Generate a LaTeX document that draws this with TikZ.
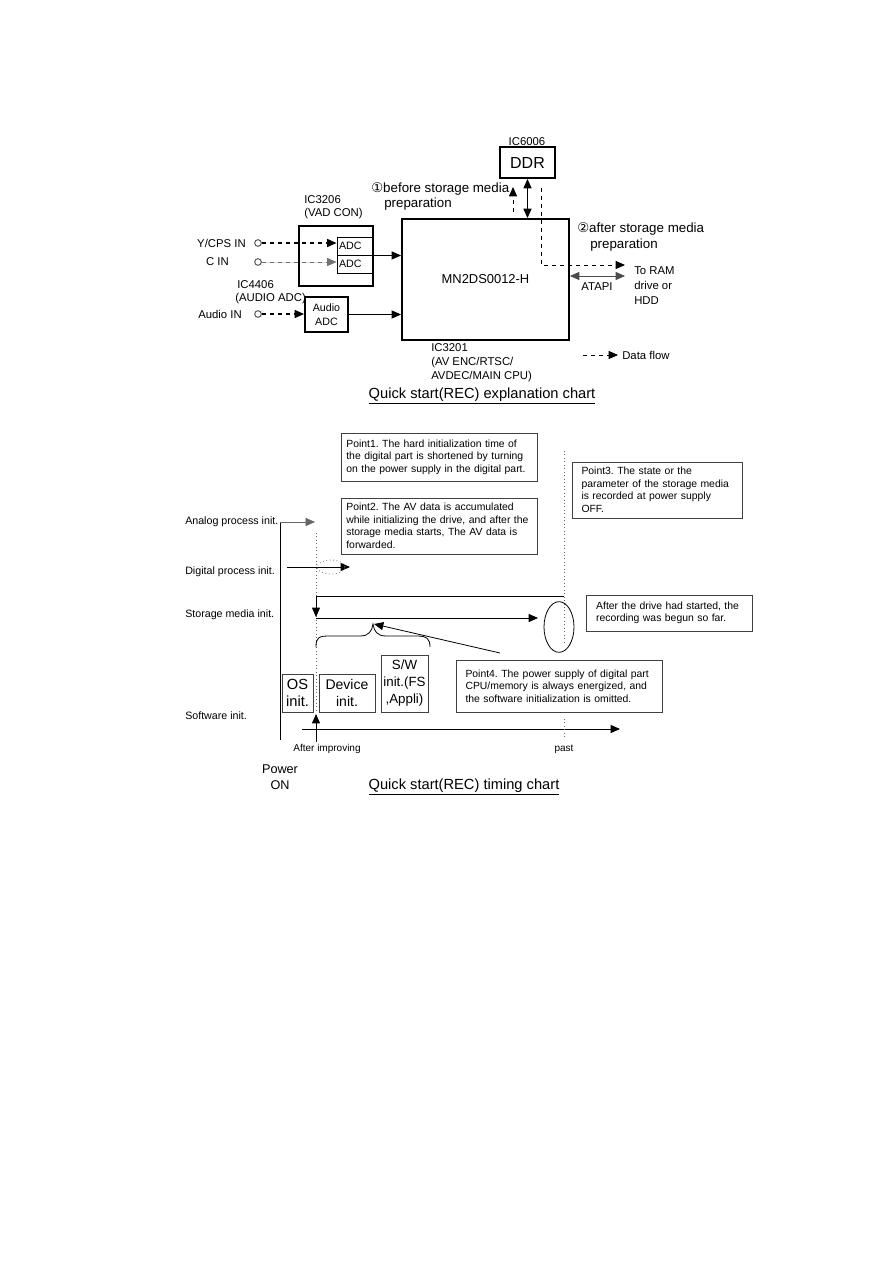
\documentclass[tikz,border=0pt]{standalone}
\usepackage{fontspec}
\setmainfont{Liberation Sans}
\newfontfamily\djv{DejaVu Sans}
\usetikzlibrary{arrows.meta,shapes.geometric}
\frenchspacing
\tikzset{
  lab/.style={inner sep=0pt, font=\fontsize{8.5}{10.5}\selectfont},
  sml/.style={inner sep=0pt, font=\fontsize{8}{9}\selectfont},
  blk/.style={draw, line width=1.4pt, inner sep=0pt},
  thinbox/.style={draw, line width=0.7pt, inner sep=0pt},
  note/.style={draw=black!75, line width=0.6pt, align=left, inner ysep=0pt, font=\fontsize{7.8}{9.4}\selectfont},
  arr/.style={-{Triangle[length=7pt,width=6pt]}},
  darr/.style={{Triangle[length=7pt,width=6pt]}-{Triangle[length=7pt,width=6pt]}},
  initbox/.style={draw=black!75, line width=0.6pt, inner sep=0pt, align=center, font=\fontsize{10.5}{12.75}\selectfont},
}
\begin{document}
\begin{tikzpicture}[x=0.75pt,y=-0.75pt]
\useasboundingbox (0,0) rectangle (893,1263);
\fill[white] (0,0) rectangle (893,1263);

% ---------------- explanation chart ----------------
\node[lab] (ic6006) at (527,142) {IC6006};
\node[blk, minimum width=41.25pt, minimum height=23.25pt, font=\fontsize{12}{14}\selectfont] (ddr) at (527.5,162.5) {DDR};
\node[blk, minimum width=125.25pt, minimum height=90.75pt, font=\fontsize{9.7}{11}\selectfont] (mn) at (485.5,279.5) {MN2DS0012-H};

\node[inner sep=0pt, anchor=west, font=\fontsize{10}{12}\selectfont] (bef) at (371,189) {{\djv ①}before storage media};
\node[inner sep=0pt, anchor=west, font=\fontsize{10}{12}\selectfont] (befp) at (384,204) {preparation};
\node[inner sep=0pt, anchor=west, font=\fontsize{10}{12}\selectfont] (aft) at (577,229) {{\djv ②}after storage media};
\node[inner sep=0pt, anchor=west, font=\fontsize{10}{12}\selectfont] (aftp) at (590,245) {preparation};

\draw[darr, line width=0.9pt] (ddr.south) -- (ddr.south |- mn.north);
\coordinate (dua) at (513,212);
\coordinate (dub) at (513,187);
\draw[arr, dashed, line width=0.7pt] (dua) -- (dub);
\coordinate (dfa) at (541,188);
\coordinate (dfb) at (541,265);
\coordinate (dfc) at (625,265);
\draw[arr, dashed, line width=0.7pt] (dfa) -- (dfb) -- (dfc);
\coordinate (ata) at (mn.east |- 0,276);
\coordinate (atb) at (625,276);
\draw[darr, line width=0.5pt, black!70] (ata) -- (atb);
\node[lab] (atapi) at (597,287) {ATAPI};
\node[lab, anchor=north west, align=left, font=\fontsize{8.5}{11.25}\selectfont] (toram) at (634,266) {To RAM\\drive or\\HDD};
\node[lab, anchor=north west, align=left, font=\fontsize{8.5}{10.5}\selectfont] (ic3201) at (431,343) {IC3201\\(AV ENC/RTSC/\\AVDEC/MAIN CPU)};

\coordinate (lga) at (583,355);
\coordinate (lgb) at (618,355);
\draw[arr, dashed, line width=0.7pt] (lga) -- (lgb);
\node[lab, anchor=west] (dflow) at (622,355) {Data flow};

% VAD CON
\node[lab, anchor=west] (ic3206) at (304,200) {IC3206};
\node[lab, anchor=west] (vadcon) at (304,214) {(VAD CON)};
\node[blk, minimum width=55.5pt, minimum height=45pt] (vad) at (336,256) {};
\node[thinbox, minimum width=27pt, minimum height=13.5pt, text width=24pt, inner xsep=1.5pt, align=left, font=\fontsize{8}{9}\selectfont] (adc1) at (355,246) {ADC};
\node[thinbox, minimum width=27pt, minimum height=13.5pt, text width=24pt, inner xsep=1.5pt, align=left, font=\fontsize{8}{9}\selectfont] (adc2) at (355,264) {ADC};
\draw[arr, line width=0.6pt] (adc1.south east) -- (adc1.south east -| mn.west);

\node[lab, anchor=east] (ycps) at (246,243) {Y/CPS IN};
\node[lab, anchor=east] (cin) at (229,262) {C IN};
\node[lab, anchor=east] (ain) at (242,314) {Audio IN};
\node[circle, draw=black!80, line width=0.6pt, inner sep=0pt, minimum size=5pt] (cy) at (258,243) {};
\node[circle, draw=black!80, line width=0.6pt, inner sep=0pt, minimum size=5pt] (cc) at (258,262) {};
\node[circle, draw=black!80, line width=0.6pt, inner sep=0pt, minimum size=5pt] (ca) at (258,314) {};
\draw[arr, dashed, line width=0.9pt] (cy.east) -- (cy.east -| adc1.west);
\draw[arr, dashed, line width=0.5pt, draw=black!55, fill=black] (cc.east) -- (cc.east -| adc2.west);

\node[lab, anchor=west] (ic4406) at (237,285) {IC4406};
\node[lab, anchor=west] (audadc) at (235,299) {(AUDIO ADC)};
\node[blk, minimum width=32.25pt, minimum height=26.25pt, align=center, font=\fontsize{8}{10.5}\selectfont] (aud) at (326.5,314.5) {Audio\\ADC};
\draw[arr, dashed, line width=0.9pt] (ca.east) -- (ca.east -| aud.west);
\draw[arr, line width=0.6pt] (aud.east) -- (aud.east -| mn.west);

\node[inner sep=0pt, font=\fontsize{11}{13}\selectfont] (title1) at (482,396) {\underline{Quick start(REC) explanation chart}};

% ---------------- timing chart ----------------
\node[note, minimum width=147pt, minimum height=36pt, text width=139pt, inner xsep=4pt] (p1) at (439,457) {Point1. The hard initialization time of\\the digital part is shortened by turning\\on the power supply in the digital part.};
\node[note, minimum width=147pt, minimum height=42pt, text width=139pt, inner xsep=4pt] (p2) at (439,526) {Point2. The AV data is accumulated\\while initializing the drive, and after the\\storage media starts, The AV data is\\forwarded.};
\node[note, minimum width=128pt, minimum height=42pt, text width=114pt, inner xsep=7pt] (p3) at (657.5,490) {Point3. The state or the\\parameter of the storage media\\is recorded at power supply\\OFF.};
\node[note, minimum width=125pt, minimum height=27pt, text width=110pt, inner xsep=7.5pt] (drv) at (669.5,613) {After the drive had started, the\\recording was begun so far.};
\node[note, minimum width=155pt, minimum height=39pt, text width=141pt, inner xsep=7pt] (p4) at (559.5,686) {Point4. The power supply of digital part\\CPU/memory is always energized, and\\the software initialization is omitted.};

\node[sml, anchor=west] (ana) at (185,522) {Analog process init.};
\node[sml, anchor=west] (dig) at (185,572) {Digital process init.};
\node[sml, anchor=west] (sto) at (185,615) {Storage media init.};
\node[sml, anchor=west] (sof) at (185,716) {Software init.};

\coordinate (vt) at (280,522);
\coordinate (vb) at (280,740);
\draw[line width=0.6pt] (vt) -- (vb);
\coordinate (ana2) at (315,522);
\draw[arr, line width=0.4pt, black!60] (vt) -- (ana2);

\coordinate (d1t) at (316,533);
\coordinate (d1b) at (316,712);
\draw[dotted, line width=0.6pt, black!60] (d1t) -- (d1b);
\coordinate (d2t) at (564,451);
\coordinate (d2b) at (564,645);
\draw[dotted, line width=0.6pt, black!60] (d2t) -- (d2b);

\coordinate (dga) at (287,567);
\coordinate (dgb) at (350,567);
\draw[arr, line width=0.6pt] (dga) -- (dgb);
\node[ellipse, draw=black!50, dotted, line width=0.6pt, minimum width=21pt, minimum height=10.5pt, inner sep=0pt] (dell) at (331,567) {};

\coordinate (sa) at (564,596);
\coordinate (sb) at (316,596);
\coordinate (sc) at (316,617);
\draw[arr, line width=0.6pt] (sa) -- (sb) -- (sc);
\coordinate (sd) at (316,618);
\coordinate (se) at (538,618);
\draw[arr, line width=0.6pt] (sd) -- (se);
\node[ellipse, draw, line width=0.6pt, minimum width=22.5pt, minimum height=38pt, inner sep=0pt] (ell) at (559,627) {};

% brace
\draw[line width=0.6pt] (316,647) .. controls (316,637) and (319,636) .. (330,636) -- (360,636) .. controls (369,636) and (372,631) .. (373,624) .. controls (374,631) and (377,636) .. (386,636) -- (417,636) .. controls (427,636) and (430,639) .. (430,647);
\coordinate (p4a) at (500,653);
\coordinate (p4b) at (374,624);
\draw[arr, line width=0.6pt] (p4a) -- (p4b);

\node[initbox, minimum width=23.25pt, minimum height=28.5pt, font=\fontsize{11}{12.75}\selectfont] (os) at (297.5,693) {OS\\init.};
\node[initbox, minimum width=42pt, minimum height=28.5pt] (dev) at (347,693) {Device\\init.};
\node[initbox, minimum width=35.25pt, minimum height=42.75pt, font=\fontsize{10}{12.75}\selectfont] (sw) at (404.5,683.5) {S/W\\init.(FS\\,Appli)};

\coordinate (ta) at (302,729);
\coordinate (tb) at (620,729);
\draw[arr, line width=0.6pt] (ta) -- (tb);
\coordinate (tka) at (564,719);
\coordinate (tkb) at (564,737);
\draw[dotted, line width=0.6pt, black!60] (tka) -- (tkb);
\coordinate (ua) at (316,742);
\coordinate (ub) at (316,714);
\draw[arr, line width=0.6pt] (ua) -- (ub);

\node[sml, font=\fontsize{7.5}{9}\selectfont] (aimp) at (327,749) {After improving};
\node[sml, font=\fontsize{7.5}{9}\selectfont] (past) at (564,749) {past};
\node[inner sep=0pt, font=\fontsize{9.5}{12}\selectfont] (pow) at (280,769) {Power};
\node[inner sep=0pt, font=\fontsize{9.5}{12}\selectfont] (on) at (280,785) {ON};
\node[inner sep=0pt, font=\fontsize{11}{13}\selectfont] (title2) at (464,787) {\underline{Quick start(REC) timing chart}};
\end{tikzpicture}
\end{document}
